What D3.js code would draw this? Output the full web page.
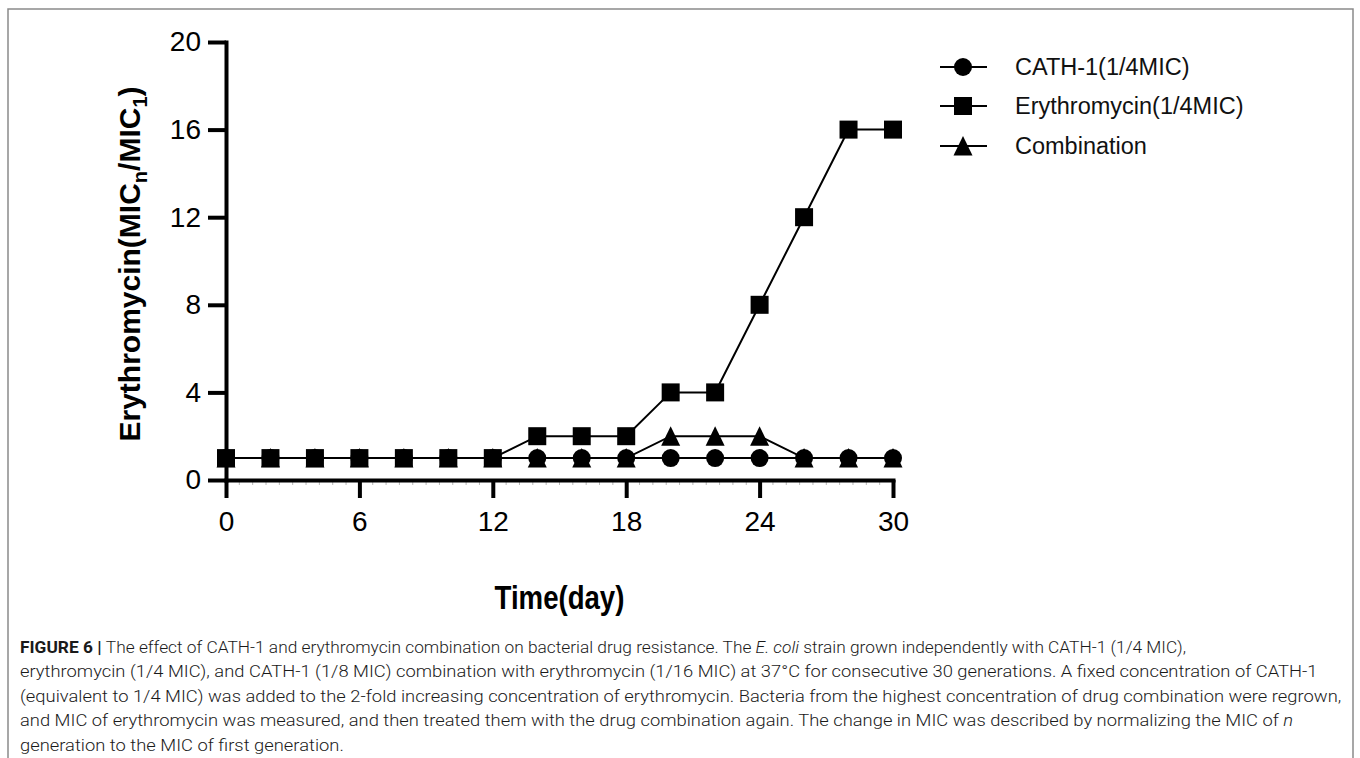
<!DOCTYPE html>
<html>
<head>
<meta charset="utf-8">
<script src="https://cdn.jsdelivr.net/npm/d3@7"></script>
<style>
  html, body { margin: 0; padding: 0; background: #fff; }
  svg { display: block; }
</style>
</head>
<body>
<svg id="chart" width="1360" height="758"></svg>
<script>
// ---------------- data ----------------
const days = [0, 2, 4, 6, 8, 10, 12, 14, 16, 18, 20, 22, 24, 26, 28, 30];
const cathValues = [1, 1, 1, 1, 1, 1, 1, 1, 1, 1, 1, 1, 1, 1, 1, 1];
const erythroValues = [1, 1, 1, 1, 1, 1, 1, 2, 2, 2, 4, 4, 8, 12, 16, 16];
const comboValues = [1, 1, 1, 1, 1, 1, 1, 1, 1, 1, 2, 2, 2, 1, 1, 1];
const seriesNames = ["CATH-1(1/4MIC)", "Erythromycin(1/4MIC)", "Combination"];
const xTicks = [0, 6, 12, 18, 24, 30];
const yTicks = [0, 4, 8, 12, 16, 20];

// ---------------- layout ----------------
const svg = d3.select("#chart");
const X0 = 226, X1 = 893, Y0 = 480, Y1 = 42;
const x = d3.scaleLinear().domain([0, 30]).range([X0, X1]);
const y = d3.scaleLinear().domain([0, 20]).range([Y0, Y1]);

// frame
svg.append("path")
  .attr("d", "M8,760 L8,9 L1353,9 L1353,760")
  .attr("fill", "none").attr("stroke", "#8a8a8a").attr("stroke-width", 1.5);

// minor x ticks
const minor = d3.range(0, 30.001, 0.6).filter(v => Math.abs(v / 6 - Math.round(v / 6)) > 1e-6);
svg.append("g").selectAll("line").data(minor).join("line")
  .attr("x1", d => x(d)).attr("x2", d => x(d))
  .attr("y1", Y0 + 2).attr("y2", Y0 + 5)
  .attr("stroke", "#b8b8b8").attr("stroke-width", 1);

// axes
const axisFont = "'Liberation Sans', Arial, sans-serif";
const yAxis = svg.append("g").attr("transform", `translate(${X0},0)`)
  .call(d3.axisLeft(y).tickValues(yTicks).tickSize(18).tickSizeOuter(0).tickPadding(7));
const xAxis = svg.append("g").attr("transform", `translate(0,${Y0})`)
  .call(d3.axisBottom(x).tickValues(xTicks).tickSize(18).tickSizeOuter(0).tickPadding(13));
[yAxis, xAxis].forEach(g => {
  g.select(".domain").attr("stroke", "#000").attr("stroke-width", 4).attr("stroke-linecap", "square");
  g.selectAll(".tick line").attr("stroke", "#000").attr("stroke-width", 4);
  g.selectAll(".tick text").attr("fill", "#000").style("font-family", axisFont).style("font-size", "28px");
});
xAxis.selectAll(".tick text").attr("dy", "0.71em");

// axis titles
svg.append("text")
  .attr("transform", `translate(${(X0 + X1) / 2},609) scale(0.92,1.1)`)
  .attr("text-anchor", "middle")
  .style("font-family", axisFont).style("font-size", "30px").style("font-weight", "bold")
  .text("Time(day)");

const yt = svg.append("text")
  .attr("transform", "translate(140,264) rotate(-90)")
  .attr("text-anchor", "middle")
  .style("font-family", axisFont).style("font-size", "30px").style("font-weight", "bold");
yt.append("tspan").text("Erythromycin(MIC");
yt.append("tspan").attr("dy", 7).style("font-size", "20px").text("n");
yt.append("tspan").attr("dy", -7).text("/MIC");
yt.append("tspan").attr("dy", 7).style("font-size", "20px").text("1");
yt.append("tspan").attr("dy", -7).text(")");

// ---------------- series ----------------
const line = d3.line().x(d => x(d[0])).y(d => y(d[1]));
const zip = vals => days.map((d, i) => [d, vals[i]]);
const seriesData = [zip(cathValues), zip(erythroValues), zip(comboValues)];

const symCircle = d3.symbol().type(d3.symbolCircle).size(Math.PI * 9 * 9);
const triPath = "M0,-10 L9.5,9.5 L-9.5,9.5 Z";
function drawMarker(g, kind) {
  if (kind === 0) g.append("path").attr("d", symCircle()).attr("fill", "#000");
  else if (kind === 1) g.append("rect").attr("x", -9).attr("y", -9).attr("width", 18).attr("height", 18).attr("fill", "#000");
  else g.append("path").attr("d", triPath).attr("fill", "#000");
}

// lines
seriesData.forEach(s => {
  svg.append("path").datum(s).attr("d", line)
    .attr("fill", "none").attr("stroke", "#000").attr("stroke-width", 2);
});
// markers: triangle bottom, circle middle, square top
[2, 0, 1].forEach(k => {
  const g = svg.append("g");
  seriesData[k].forEach(p => {
    const m = g.append("g").attr("transform", `translate(${x(p[0])},${y(p[1])})`);
    drawMarker(m, k);
  });
});

// ---------------- legend ----------------
const legY = [67, 106, 146];
seriesNames.forEach((name, i) => {
  const g = svg.append("g").attr("transform", `translate(0,${legY[i]})`);
  g.append("line").attr("x1", 940).attr("x2", 987).attr("stroke", "#000").attr("stroke-width", 2);
  const m = g.append("g").attr("transform", "translate(963,0)");
  drawMarker(m, i);
  g.append("text").attr("x", 1015).attr("dy", "0.35em")
    .style("font-family", axisFont).style("font-size", "23.5px").attr("fill", "#111")
    .text(name);
});

// ---------------- caption ----------------
const capLines = [
  [["b", "FIGURE 6 | "], ["", "The effect of CATH-1 and erythromycin combination on bacterial drug resistance. The "], ["i", "E. coli"], ["", " strain grown independently with CATH-1 (1/4 MIC),"]],
  [["", "erythromycin (1/4 MIC), and CATH-1 (1/8 MIC) combination with erythromycin (1/16 MIC) at 37°C for consecutive 30 generations. A fixed concentration of CATH-1"]],
  [["", "(equivalent to 1/4 MIC) was added to the 2-fold increasing concentration of erythromycin. Bacteria from the highest concentration of drug combination were regrown,"]],
  [["", "and MIC of erythromycin was measured, and then treated them with the drug combination again. The change in MIC was described by normalizing the MIC of "], ["i", "n"]],
  [["", "generation to the MIC of first generation."]]
];
const capGroups = capLines.map((parts, i) => {
  const g = svg.append("g");
  const t = g.append("text").attr("x", 0).attr("y", 653 + i * 24.5)
    .style("font-family", "Roboto, 'Liberation Sans', sans-serif")
    .style("font-size", "17px").style("font-weight", "300").attr("fill", "#1a1a1a");
  parts.forEach(([st, txt]) => {
    const ts = t.append("tspan").text(txt);
    if (st === "b") ts.style("font-weight", "bold");
    if (st === "i") ts.style("font-style", "italic");
  });
  return { g, t };
});
const sx = (1342 - 20) / capGroups[2].t.node().getComputedTextLength();
capGroups.forEach(({ g }) => g.attr("transform", `translate(20,0) scale(${sx},1)`));
// first line is set tighter in the original
const sx1 = (1186 - 20) / capGroups[0].t.node().getComputedTextLength();
capGroups[0].g.attr("transform", `translate(20,0) scale(${sx1},1)`);
</script>
</body>
</html>
